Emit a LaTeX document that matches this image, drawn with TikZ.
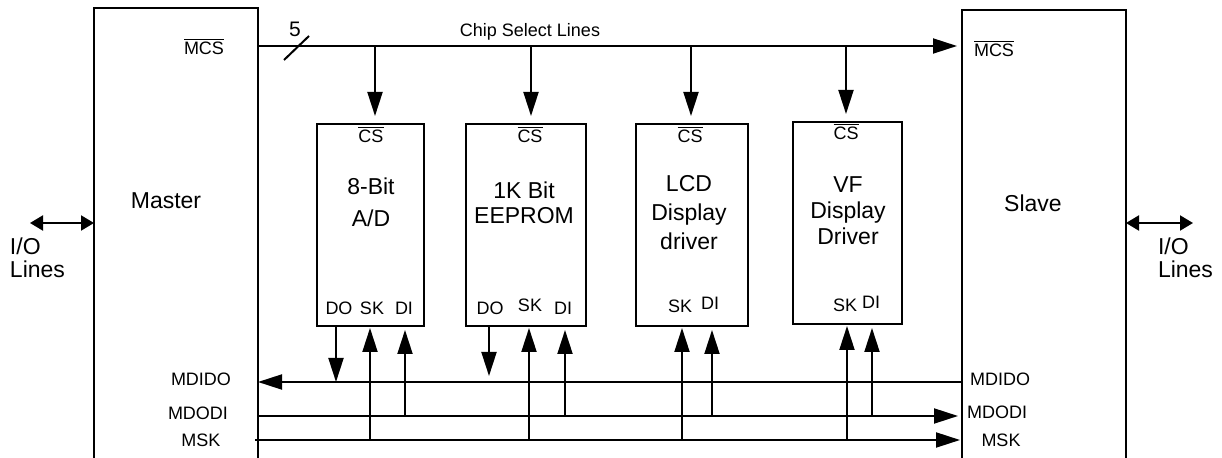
\documentclass[tikz,border=0pt]{standalone}
\usepackage{fontspec}
\setmainfont{Liberation Sans}
\usetikzlibrary{arrows.meta}

\tikzset{
  chip/.style={draw,line width=1pt,minimum height=101pt,inner sep=0pt},
  sig/.style={line width=1pt,-{Triangle[length=12pt,width=7.5pt]}},
  iolink/.style={line width=1pt,{Triangle[length=6.5pt,width=7.5pt]}-{Triangle[length=6.5pt,width=7.5pt]}},
  lbl/.style={font=\fontsize{9}{10.8}\selectfont,inner sep=0pt,anchor=base},
  big/.style={font=\fontsize{11.5}{15}\selectfont,align=center,inner sep=0pt,anchor=north}
}
\newcommand\ovl[1]{$\overline{\mbox{#1}}$}

\begin{document}
\begin{tikzpicture}[x=.5pt,y=-.5pt,line width=1pt]
\useasboundingbox (0,0) rectangle (1222,458);
% master and slave, open at the bottom
\draw (94,458) |- (258,8) -- (258,458);
\draw (962,458) |- (1126,10) -- (1126,458);
\node[big] (master) at (166,192) {Master};
\node[big] (slave) at (1033,194) {Slave};
\node[lbl] (mcsm) at (204,55) {\ovl{MCS}};
\node[lbl] (mcss) at (994,57) {\ovl{MCS}};
% I/O lines
\coordinate (iol) at (30,223);
\coordinate (iom) at (94,223);
\coordinate (ios) at (1126,223);
\coordinate (ior) at (1193,223);
\draw[iolink] (iol) -- (iom);
\draw[iolink] (ios) -- (ior);
\node[big,align=left,anchor=north west,font=\fontsize{11.5}{11.5}\selectfont] (iotxtl) at (9,237) {I/O\\Lines};
\node[big,align=left,anchor=north west,font=\fontsize{11.5}{11.5}\selectfont] (iotxtr) at (1157,237) {I/O\\Lines};
% chips
\node[chip,minimum width=53.5pt] (ad) at (370.5,225) {};
\node[chip,minimum width=60pt] (ee) at (526,225) {};
\node[chip,minimum width=56pt] (lcd) at (692,225) {};
\node[chip,minimum width=54.5pt] (vf) at (847.5,223) {};
\node[big] (adtxt) at (371,177) {8-Bit\\[1pt]A/D};
\node[big] (eetxt) at (524,181) {1K Bit\\[-2.5pt]EEPROM};
\node[big] (lcdtxt) at (689,174) {LCD\\[-.5pt]Display\\[-.5pt]driver};
\node[big] (vftxt) at (848,176) {VF\\[-2pt]Display\\[-2pt]Driver};
\node[lbl] (adcs) at (371,143) {\ovl{CS}};
\node[lbl] (eecs) at (530,143) {\ovl{CS}};
\node[lbl] (lcdcs) at (690,143) {\ovl{CS}};
\node[lbl] (vfcs) at (846,140) {\ovl{CS}};
% pin labels
\node[lbl] (addo) at (339,315) {DO};
\node[lbl] (adsk) at (372,315) {SK};
\node[lbl] (addi) at (404,315) {DI};
\node[lbl] (eedo) at (490,315) {DO};
\node[lbl] (eesk) at (530,312) {SK};
\node[lbl] (eedi) at (563,315) {DI};
\node[lbl] (lcdsk) at (680,313) {SK};
\node[lbl] (lcddi) at (710,310) {DI};
\node[lbl] (vfsk) at (845,312) {SK};
\node[lbl] (vfdi) at (871,309) {DI};
% chip select bus
\coordinate (mcs-m) at (258,46);
\coordinate (mcs-s) at (962,46);
\draw[sig,shorten >=2.5pt] (mcs-m) -- (mcs-s);
\draw (284,60) -- (309,36);
\node[lbl,font=\fontsize{10.5}{12}\selectfont] (five) at (295,37) {5};
\node[lbl] (csl) at (530,37) {Chip Select Lines};
\coordinate (cs1) at (375,46);
\coordinate (cs2) at (531,46);
\coordinate (cs3) at (691,46);
\coordinate (cs4) at (846,46);
\draw[sig,shorten >=3.5pt] (cs1) -- (cs1 |- ad.north);
\draw[sig,shorten >=3.5pt] (cs2) -- (cs2 |- ee.north);
\draw[sig,shorten >=3.5pt] (cs3) -- (cs3 |- lcd.north);
\draw[sig,shorten >=3.5pt] (cs4) -- (cs4 |- vf.north);
% serial bus
\coordinate (M-mdido) at (258,382);
\coordinate (S-mdido) at (962,382);
\coordinate (M-mdodi) at (258,416);
\coordinate (S-mdodi) at (962,416);
\coordinate (M-msk) at (255,440);
\coordinate (S-msk) at (962,440);
\draw[sig] (S-mdido) -- (M-mdido);
\draw[sig,shorten >=2pt] (M-mdodi) -- (S-mdodi);
\draw[sig,shorten >=1pt] (M-msk) -- (S-msk);
\node[lbl] (mdidol) at (201,386) {MDIDO};
\node[lbl] (mdodil) at (198,420) {MDODI};
\node[lbl] (mskl) at (201,447) {MSK};
\node[lbl] (mdidor) at (1000,386) {MDIDO};
\node[lbl] (mdodir) at (997,419) {MDODI};
\node[lbl] (mskr) at (1001,447) {MSK};
% pins
\coordinate (ad-do) at (336,326);
\coordinate (ad-sk) at (370,326);
\coordinate (ad-di) at (405,326);
\coordinate (ee-do) at (489,326);
\coordinate (ee-sk) at (529,326);
\coordinate (ee-di) at (565,326);
\coordinate (lcd-sk) at (682,326);
\coordinate (lcd-di) at (712,326);
\coordinate (vf-sk) at (847,324);
\coordinate (vf-di) at (872,324);
\draw[sig] (ad-do) -- (ad-do |- M-mdido);
\draw[sig] (ee-do) -- ++(0,50);
\draw[sig,shorten >=1pt] (ad-sk |- M-msk) -- (ad-sk);
\draw[sig,shorten >=1pt] (ee-sk |- M-msk) -- (ee-sk);
\draw[sig,shorten >=1pt] (lcd-sk |- M-msk) -- (lcd-sk);
\draw[sig,shorten >=1pt] (vf-sk |- M-msk) -- (vf-sk);
\draw[sig,shorten >=2pt] (ad-di |- M-mdodi) -- (ad-di);
\draw[sig,shorten >=2pt] (ee-di |- M-mdodi) -- (ee-di);
\draw[sig,shorten >=2pt] (lcd-di |- M-mdodi) -- (lcd-di);
\draw[sig,shorten >=2pt] (vf-di |- M-mdodi) -- (vf-di);
\end{tikzpicture}
\end{document}
